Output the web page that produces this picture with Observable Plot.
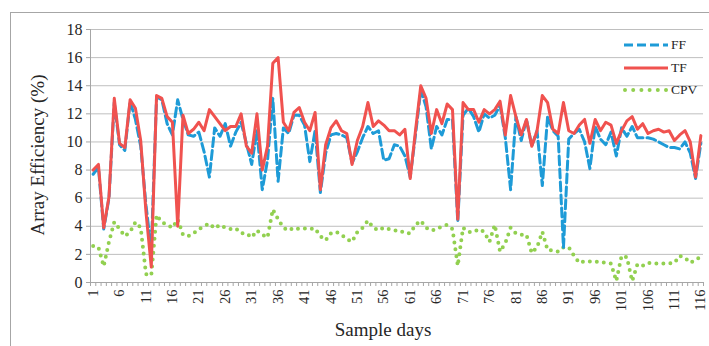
<!DOCTYPE html>
<html><head><meta charset="utf-8">
<script src="https://cdn.jsdelivr.net/npm/d3@7"></script>
<script src="https://cdn.jsdelivr.net/npm/@observablehq/plot@0.6"></script>
<style>
body{margin:0;background:#fff;}
#wrap{position:relative;width:709px;height:346px;overflow:hidden;font-family:"Liberation Serif",serif;color:#262626;}
#frame{position:absolute;left:10px;top:12px;width:760px;height:400px;border:1px solid #a6a6a6;box-sizing:border-box;}
#chart{position:absolute;left:0;top:0;}
#chart svg text{font-family:"Liberation Serif",serif;}
.lbl{position:absolute;white-space:nowrap;}
#ytitle{left:38px;top:155px;font-size:19px;transform:translate(-50%,-50%) rotate(-90deg);}
#xtitle{left:383px;top:330px;font-size:19px;transform:translate(-50%,-50%);}
.leg{position:absolute;left:622px;width:90px;height:20px;}
.leg span{position:absolute;left:49px;top:0;font-size:13.5px;line-height:20px;}
.leg svg{position:absolute;left:0;top:0;}
</style></head>
<body><div id="wrap"><div id="frame"></div><div id="chart"></div>
<div class="lbl" id="ytitle">Array Efficiency (%)</div>
<div class="lbl" id="xtitle">Sample days</div>
<div class="leg" style="top:35px"><svg width="48" height="20"><line x1="2" x2="46" y1="10" y2="10" stroke="#1E9BD7" stroke-width="3" stroke-dasharray="9 4"/></svg><span>FF</span></div>
<div class="leg" style="top:58px"><svg width="48" height="20"><line x1="2" x2="46" y1="10" y2="10" stroke="#F0524F" stroke-width="3"/></svg><span>TF</span></div>
<div class="leg" style="top:80px"><svg width="48" height="20"><line x1="3" x2="46" y1="10" y2="10" stroke="#92D050" stroke-width="4" stroke-linecap="round" stroke-dasharray="0 8.2"/></svg><span>CPV</span></div>
</div>
<script>
const dayCount = 116;
const FF = [
 7.7, 8.2, 3.8, 6.0, 12.8, 9.8, 9.4, 12.9, 11.6, 9.7,
 5.5, 2.3, 13.2, 13.0, 11.3, 10.5, 13.0, 11.6, 10.5, 10.4,
 10.7, 9.3, 7.5, 11.0, 10.4, 11.3, 9.7, 10.7, 11.4, 9.9,
 8.4, 10.8, 6.6, 8.7, 13.1, 7.2, 11.0, 10.6, 11.9, 11.9,
 11.2, 8.6, 10.8, 6.4, 9.2, 10.5, 10.6, 10.5, 10.3, 8.5,
 9.3, 10.3, 11.1, 10.6, 10.8, 8.7, 8.8, 9.8, 9.7, 9.0,
 7.5, 10.5, 13.7, 12.5, 9.5, 11.1, 10.5, 11.6, 11.6, 4.3,
 11.9, 12.4, 11.8, 10.7, 12.0, 11.7, 11.9, 12.6, 10.3, 6.6,
 11.8, 10.1, 11.6, 9.7, 10.8, 6.9, 11.8, 10.8, 10.4, 2.5,
 10.2, 10.6, 10.9, 10.0, 8.1, 11.1, 10.2, 9.8, 10.7, 9.0,
 11.0, 10.4, 11.1, 10.3, 10.3, 10.3, 10.2, 10.0, 9.8, 9.6,
 9.6, 9.5, 10.0, 9.2, 7.4, 9.9
];
const TF = [
 8.0, 8.4, 3.9, 6.1, 13.1, 9.9, 9.6, 13.0, 12.4, 10.1,
 5.0, 1.1, 13.3, 13.1, 11.8, 11.4, 4.0, 11.9, 10.6, 10.9,
 11.4, 10.8, 12.3, 11.8, 11.3, 10.8, 11.1, 11.1, 12.0, 9.7,
 9.2, 12.0, 8.0, 9.7, 15.6, 16.0, 11.4, 10.8, 12.1, 12.45,
 11.4, 10.8, 12.1, 6.6, 9.8, 11.0, 11.5, 10.8, 10.6, 8.4,
 10.1, 11.1, 12.8, 11.1, 11.5, 11.2, 10.8, 10.8, 10.5, 10.9,
 7.4, 10.8, 14.0, 13.1, 10.6, 12.3, 11.3, 12.7, 12.3, 4.5,
 12.8, 12.3, 12.3, 11.4, 12.3, 12.0, 12.3, 12.9, 10.5, 13.3,
 11.8, 10.5, 11.6, 9.7, 10.8, 13.3, 12.8, 10.9, 10.6, 12.8,
 10.8, 10.6, 11.2, 11.6, 9.9, 11.6, 10.8, 11.4, 11.2, 9.9,
 10.8, 11.5, 11.8, 10.9, 11.3, 10.6, 10.8, 10.9, 10.7, 10.8,
 10.1, 10.5, 10.8, 10.0, 7.5, 10.45
];
const CPV = [
 2.6, 2.5, 1.15, 2.9, 4.3, 3.8, 3.3, 3.6, 4.3, 3.9,
 0.6, 0.5, 4.8, 4.3, 4.1, 3.9, 4.5, 3.4, 3.3, 3.5,
 3.8, 4.0, 4.2, 3.85, 4.1, 3.9, 3.8, 3.85, 3.5, 3.5,
 3.2, 3.7, 3.4, 3.2, 5.2, 4.5, 3.9, 3.7, 3.9, 3.8,
 3.85, 3.8, 3.85, 3.3, 3.0, 3.5, 3.6, 3.4, 3.1, 2.9,
 3.6, 3.9, 4.4, 3.9, 3.7, 3.9, 3.8, 3.7, 3.7, 3.5,
 3.5, 4.1, 4.4, 3.9, 3.7, 3.8, 4.0, 4.1, 3.8, 1.2,
 3.9, 3.6, 3.6, 3.8, 3.6, 2.9, 4.1, 2.2, 2.8, 3.9,
 3.5, 3.4, 3.4, 2.1, 2.5, 3.6, 2.3, 2.3, 2.2, 2.5,
 2.5, 1.9, 1.4, 1.5, 1.5, 1.5, 1.45, 1.4, 1.35, 0.1,
 1.9, 1.8, 0.1, 1.3, 1.2, 1.4, 1.35, 1.35, 1.35, 1.35,
 1.4, 1.9, 1.75, 1.4, 1.6, 1.85
];
const yTicks = [0, 2, 4, 6, 8, 10, 12, 14, 16, 18];
const xTickDays = d3.range(1, dayCount + 1, 5);

const days = d3.range(1, dayCount + 1);
const rows = days.map((d, i) => ({day: d, FF: FF[i], TF: TF[i], CPV: CPV[i]}));
const boundaries = d3.range(0.5, dayCount + 1, 1);

const chart = Plot.plot({
  width: 709, height: 346,
  marginLeft: 90, marginRight: 6, marginTop: 29, marginBottom: 64,
  style: "font-family: 'Liberation Serif', serif; background: transparent; color: #262626; overflow: visible;",
  x: {domain: [0.5, dayCount + 0.5]},
  y: {domain: [0, 18]},
  marks: [
    Plot.gridY(yTicks, {stroke: "#bfbfbf", strokeOpacity: 1}),
    Plot.ruleX([0.5], {stroke: "#a6a6a6"}),
    Plot.ruleY([0], {stroke: "#a6a6a6"}),
    Plot.axisY(yTicks, {tickSize: 4, tickPadding: 4, fontSize: 16, label: null, stroke: "#a6a6a6"}),
    Plot.axisX(boundaries, {tickSize: 4, tickFormat: () => "", label: null, stroke: "#a6a6a6"}),
    Plot.axisX(xTickDays, {tickSize: 0, tickRotate: -90, tickPadding: 7, fontSize: 14.5, label: null}),
    Plot.line(rows, {x: "day", y: "CPV", stroke: "#92D050", strokeWidth: 4, strokeDasharray: "0 7", strokeLinecap: "round"}),
    Plot.line(rows, {x: "day", y: "FF", stroke: "#1E9BD7", strokeWidth: 3, strokeDasharray: "9 4"}),
    Plot.line(rows, {x: "day", y: "TF", stroke: "#F0524F", strokeWidth: 3})
  ]
});
document.getElementById("chart").appendChild(chart);
</script>
</body></html>
